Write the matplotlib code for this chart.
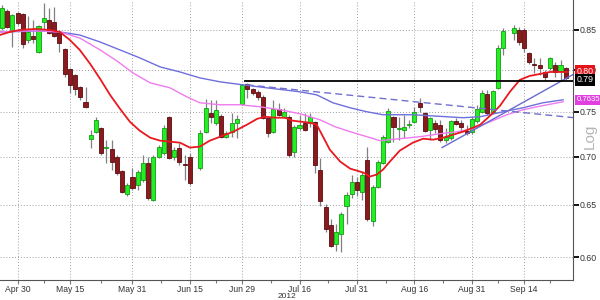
import numpy as np
import matplotlib
matplotlib.use("Agg")
import matplotlib.pyplot as plt
from matplotlib.transforms import blended_transform_factory
from matplotlib.ticker import FixedLocator, FixedFormatter, NullLocator

nan = np.nan
# ---------------- data ----------------
opens = [.8526,.8751,.8500,.8724,.8710,.8371,.8422,.8219,.8605,.8631,
         .8605,.8474,.8257,.8007,.7934,.7790,.7614,.7195,.7272,.7316,
         .7097,.7086,.6999,.6852,.6605,.6789,.6706,.6758,.6935,.6554,
         .6999,.7043,.7441,.6999,.7097,.6925,.6999,nan,.6883,.7272,
         .7487,.7373,.7453,.7217,.7272,.7373,.7591,.7826,.7766,.7731,
         .7672,.7430,.7272,.7533,.7441,.7441,.7054,.7316,.7373,.7373,
         .7384,.6862,.6475,.6299,.6119,.6213,.6485,.6605,.6737,.6635,
         .6967,.6338,.6686,.6935,.7162,.7441,.7305,.7294,.7350,.7384,
         .7602,.7487,.7294,.7373,.7350,.7184,.7206,.7396,.7373,.7283,
         .7272,.7396,.7498,.7707,.7498,.7778,.8269,nan,.8461,.8500,
         .8500,.8206,.8069,.8057,.7970,.8020,.8057,.7983,.8020]
highs = [.8832,.8778,.8710,.8737,.8724,.8684,.8631,.8565,.8859,.8791,
         .8805,.8500,.8269,.8020,.7946,.7802,.7790,.7294,.7441,.7328,
         .7184,.7184,.7021,.6862,.6727,.6883,.6862,.7021,.6999,.7021,
         .7129,.7350,.7453,.7108,.7151,.7021,.7043,nan,.7294,.7649,
         .7637,.7637,.7475,.7283,.7487,.7464,.7826,.7838,.7778,.7754,
         .7695,.7441,.7637,.7602,.7544,.7464,.7350,.7464,.7487,.7487,
         .7396,.6988,.6505,.6357,.6309,.6426,.6625,.6810,.6789,.6841,
         .7108,.6706,.6967,.7239,.7544,.7453,.7441,.7464,.7407,.7556,
         .7660,.7498,.7441,.7407,.7407,.7316,.7407,.7430,.7407,.7350,
         .7441,.7579,.7754,.7754,.7754,.8307,.8526,nan,.8565,.8539,
         .8526,.8219,.8144,.8144,.7995,.8156,.8094,.8119,.8032]
lows = [.8500,.8526,.8282,.8565,.8269,.8333,.8333,.8206,.8500,.8448,
        .8409,.8219,.7910,.7719,.7695,.7637,.7544,.7097,.7261,.7021,
        .6935,.6862,.6810,.6615,.6585,.6655,.6655,.6737,.6554,.6535,
        .6988,.7021,.6978,.6967,.6914,.6758,.6706,nan,.6862,.7261,
        .7373,.7350,.7206,.7206,.7217,.7206,.7579,.7660,.7695,.7637,
        .7418,.7217,.7261,.7453,.7430,.6999,.6999,.7294,.7283,.7328,
        .6831,.6485,.6232,.6091,.6054,.6044,.6309,.6574,.6585,.6554,
        .6338,.6290,.6675,.6925,.7151,.7162,.7184,.7206,.7316,.7373,
        .7498,.7272,.7184,.7261,.7162,.7151,.7184,.7350,.7272,.7239,
        .7250,.7373,.7487,.7464,.7487,.7766,.8181,nan,.8371,.8307,
        .8219,.8069,.7958,.7934,.7874,.7995,.7910,.7874,.7874]
closes = [.8791,.8539,.8697,.8591,.8320,.8474,.8384,.8552,.8657,.8461,
          .8422,.8333,.7946,.7814,.7766,.7672,.7556,.7239,.7407,.7043,
          .7108,.6946,.6831,.6625,.6706,.6675,.6841,.6935,.6574,.6999,
          .7108,.7316,.6988,.7075,.6946,.6914,.6727,nan,.7261,.7544,
          .7441,.7521,.7217,.7261,.7373,.7418,.7814,.7766,.7719,.7672,
          .7430,.7261,.7533,.7464,.7498,.7021,.7328,.7350,.7294,.7441,
          .6914,.6535,.6261,.6100,.6232,.6406,.6595,.6737,.6655,.6810,
          .6357,.6686,.6946,.7217,.7510,.7328,.7316,.7328,.7362,.7498,
          .7556,.7283,.7430,.7305,.7184,.7217,.7396,.7362,.7328,.7261,
          .7418,.7533,.7719,.7487,.7742,.8269,.8487,nan,.8526,.8345,
          .8269,.8094,.8057,.8020,.7910,.8144,.7970,.8057,.7898]

# moving-average lines (position, price)
red_x = [-0.4,1.5,3.4,6.3,9.2,11.1,13.0,14.9,16.9,18.8,20.7,22.6,24.5,26.4,28.4,30.3,
         32.2,34.1,36.0,37.9,39.8,41.8,44.3,46.9,48.9,50.4,52.3,54.2,55.7,59.0,60.3,
         61.5,62.8,64.8,66.7,69.2,70.5,71.8,73.0,74.3,76.2,78.7,80.7,82.6,84.5,86.4,
         88.3,90.2,91.6,93.5,95.4,97.3,99.2,101.1,103.1,105.0,106.9,108.4]
red_y = [.8435,.8474,.8500,.8513,.8500,.8474,.8371,.8244,.8069,.7886,.7695,.7533,.7384,
         .7283,.7206,.7173,.7162,.7151,.7097,.7108,.7173,.7217,.7272,.7350,.7418,.7441,
         .7430,.7430,.7396,.7373,.7350,.7217,.7075,.6946,.6872,.6831,.6789,.6810,.6862,
         .6946,.7064,.7151,.7195,.7184,.7206,.7239,.7272,.7316,.7350,.7453,.7567,.7731,
         .7874,.7922,.7946,.7970,.7970,.7970]
pink_x = [-0.4,3.4,7.3,11.1,14.9,18.8,22.0,25.1,28.4,32.2,35.4,37.9,41.8,45.6,49.4,53.3,
          57.1,60.9,63.8,66.7,69.9,72.4,76.2,80.1,83.9,87.2,90.2,93.5,96.7,99.8,102.5,
          105.5,107.5]
pink_y = [.8474,.8487,.8487,.8474,.8396,.8244,.8107,.7958,.7838,.7778,.7672,.7602,.7579,
          .7579,.7556,.7521,.7475,.7407,.7328,.7272,.7217,.7173,.7195,.7217,.7250,.7272,
          .7305,.7384,.7464,.7521,.7556,.7591,.7614]
blue_x = [-0.4,7.3,11.1,14.9,18.8,22.6,26.4,30.3,34.1,37.9,41.8,46.2,50.8,57.1,60.3,63.4,
          66.7,69.9,73.0,78.7,85.2,88.3,91.6,96.0,99.8,103.6,107.5]
blue_y = [.8474,.8487,.8474,.8435,.8345,.8244,.8144,.8032,.7970,.7898,.7850,.7814,.7778,
          .7731,.7695,.7602,.7544,.7498,.7464,.7464,.7441,.7430,.7441,.7498,.7544,.7602,.7637]

# drawn lines
trend_x = [84.3, 109.6]; trend_y = [.7097, .7946]
dash_x = [46.9, 109.6];  dash_y = [.7814, .7430]
level_x = [46.5, 109.6]; level_y = [.786, .786]

# axis labels
xtick_pos = [3, 13, 25, 36, 46, 57, 68, 79, 90, 100]
xtick_lab = ["Apr 30", "May 15", "May 31", "Jun 15", "Jun 29", "Jul 16", "Jul 31",
             "Aug 16", "Aug 31", "Sep 14"]
ytick_pos = [0.60, 0.65, 0.70, 0.75, 0.80, 0.85]
ytick_lab = ["0.60", "0.65", "0.70", "0.75", "0.80", "0.85"]
year_label = "2012"; year_pos = 54.6
last_labels = [(0.7975, "0.80", "#e3151b", 6.3), (0.7875, "0.79", "#000000", 6.3),
               (0.7635, "0.7635", "#e040e0", 5.6)]

# ---------------- drawing ----------------
plt.rcParams['font.family'] = ['Liberation Sans Narrow', 'Liberation Sans', 'DejaVu Sans']
fig = plt.figure(figsize=(6, 3), dpi=100)
ax = fig.add_axes([0, 20/300, 573/600, 280/300])
ax.set_yscale('log')

o = np.array(opens); h = np.array(highs); l = np.array(lows); c = np.array(closes)
x = np.arange(len(o))
ok = ~np.isnan(o)
up = ok & (c >= o)
dn = ok & (c < o)

ax.vlines(x[ok], l[ok], h[ok], color='#808080', lw=0.9, zorder=2)
w = 0.78
bot = np.minimum(o, c); hgt = np.maximum(np.abs(c - o), 0.0012)
ax.bar(x[up], hgt[up], bottom=bot[up], width=w, color='#22f022', edgecolor='#169a16', lw=0.6, zorder=3)
ax.bar(x[dn], hgt[dn], bottom=bot[dn], width=w, color='#8b1a1f', edgecolor='#5a0c10', lw=0.6, zorder=3)

ax.plot(blue_x, blue_y, color='#6f6fdc', lw=1.0, zorder=4)
ax.plot(pink_x, pink_y, color='#ef7bef', lw=1.0, zorder=4)
ax.plot(red_x, red_y, color='#e8191f', lw=1.3, zorder=5)
ax.plot(trend_x, trend_y, color='#6a6ad0', lw=1.0, zorder=5)
ax.plot(dash_x, dash_y, color='#7070d0', lw=1.0, ls=(0, (5, 3)), zorder=5)
ax.plot(level_x, level_y, color='black', lw=1.3, zorder=6)

ax.set_xlim(-0.38, 109.39)
ax.set_ylim(0.5793, 0.890)

ax.yaxis.tick_right()
ax.yaxis.set_major_locator(FixedLocator(ytick_pos))
ax.yaxis.set_major_formatter(FixedFormatter(ytick_lab))
ax.yaxis.set_minor_locator(NullLocator())
ax.tick_params(axis='y', which='major', direction='out', length=4, width=1.3, color='black',
               labelsize=6.3, labelcolor='#333333', pad=1)

ax.xaxis.set_major_locator(FixedLocator(xtick_pos))
ax.xaxis.set_major_formatter(FixedFormatter(xtick_lab))
mids = [(a + b) / 2 for a, b in zip(xtick_pos[:-1], xtick_pos[1:])] + [xtick_pos[-1] + 5]
ax.xaxis.set_minor_locator(FixedLocator(mids))
ax.tick_params(axis='x', which='major', direction='out', length=3, width=0.8, color='#777777',
               labelsize=6.2, labelcolor='#333333', pad=0.3)
ax.tick_params(axis='x', which='minor', direction='out', length=2, width=0.8, color='#777777')

ax.grid(True, which='major', linestyle=(0, (1, 2)), color='#a0a0a0', lw=0.7)
ax.set_axisbelow(True)
for s in ['top', 'left']:
    ax.spines[s].set_visible(False)
for s in ['right', 'bottom']:
    ax.spines[s].set_color('#555555')
    ax.spines[s].set_linewidth(0.8)

tr = blended_transform_factory(ax.transData, fig.transFigure)
ax.text(year_pos, 0.0125, year_label, transform=tr, ha='center', va='center',
        fontsize=6.0, color='#333333')

tr2 = blended_transform_factory(ax.transAxes, ax.transData)
for k, (val, txt, col, fs) in enumerate(last_labels):
    ax.text(1.006, val, txt, transform=tr2, ha='left', va='center', fontsize=fs,
            color='white', clip_on=False, zorder=10 + k,
            bbox=dict(boxstyle='square,pad=0.2', fc=col, ec='none'))

fig.text(0.983, 0.545, "Log", rotation=90, ha='center', va='center', fontsize=11,
         color='#b5b5b5')

fig.savefig("out.png", dpi=100)
